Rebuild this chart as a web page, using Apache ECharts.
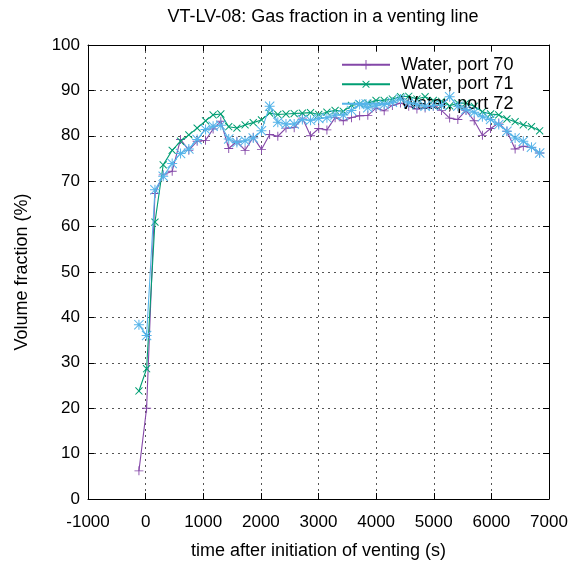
<!DOCTYPE html>
<html>
<head>
<meta charset="utf-8">
<script src="https://cdn.jsdelivr.net/npm/echarts@6/dist/echarts.min.js"></script>
<style>html,body{margin:0;padding:0;background:#fff}#c{width:573px;height:563px}</style>
</head>
<body>
<div id="c"></div>
<script>
const titleText = "VT-LV-08: Gas fraction in a venting line";
const xName = "time after initiation of venting (s)";
const yName = "Volume fraction (%)";
const seriesNames = ["Water, port 70", "Water, port 71", "Water, port 72"];
const seriesColors = ["#8447a8", "#009e73", "#56b4e9"];

const time = [-116, 17, 162, 305, 461, 606, 750, 894, 1040, 1171,
  1305, 1442, 1584, 1726, 1868, 2010, 2152, 2294, 2436, 2578,
  2720, 2862, 3004, 3146, 3288, 3430, 3572, 3714, 3856, 3998,
  4140, 4282, 4424, 4566, 4708, 4850, 4992, 5134, 5276, 5418,
  5560, 5702, 5844, 5986, 6128, 6270, 6412, 6554, 6696, 6838];

const port70 = [6.2, 20.0, 67.3, 71.4, 72.2, 79.2, 76.8, 78.8, 79.0, 81.5,
  83.2, 77.2, 78.8, 76.8, 79.7, 77.0, 80.3, 79.9, 81.7, 81.8,
  83.9, 80.0, 81.6, 81.3, 84.0, 83.3, 84.0, 84.4, 84.5, 86.1,
  85.5, 86.7, 87.2, 86.5, 85.9, 86.1, 86.5, 85.6, 83.9, 83.6,
  85.6, 83.3, 80.1, 81.6, 82.8, 81.0, 77.1, 77.7, 77.4, 76.2];

const port71 = [23.8, 28.7, 61.0, 73.6, 76.8, 78.8, 80.2, 81.7, 83.3, 84.6,
  84.8, 82.0, 81.7, 82.4, 82.9, 83.5, 85.0, 84.7, 84.8, 84.9,
  85.0, 85.1, 84.7, 85.2, 85.6, 85.4, 86.7, 87.0, 87.2, 87.8,
  87.8, 88.1, 88.6, 88.7, 88.1, 88.6, 87.8, 87.6, 86.6, 87.2,
  87.2, 86.5, 85.3, 84.8, 84.6, 83.7, 83.1, 82.4, 82.0, 81.1];

const port72 = [38.4, 36.0, 68.1, 71.1, 73.9, 76.1, 77.1, 79.2, 81.4, 82.1,
  82.3, 79.3, 78.5, 78.9, 79.5, 81.1, 86.5, 83.0, 82.6, 82.6,
  83.6, 83.4, 83.8, 84.0, 84.6, 84.6, 85.6, 86.9, 86.2, 86.6,
  86.9, 87.4, 88.1, 87.3, 86.9, 86.5, 86.7, 86.7, 88.6, 86.5,
  85.8, 85.2, 84.2, 83.6, 82.5, 81.0, 79.5, 78.8, 77.5, 76.2];

const xMin = -1000, xMax = 7000, xStep = 1000;
const yMin = 0, yMax = 100, yStep = 10;

const FONT = "'Liberation Sans', Arial, sans-serif";
const plusPath = 'path://M4.5,0 L5.5,0 L5.5,4.5 L10,4.5 L10,5.5 L5.5,5.5 L5.5,10 L4.5,10 L4.5,5.5 L0,5.5 L0,4.5 L4.5,4.5 Z';
const starPath = 'path://M4.5,0 L5.5,0 L5.5,4.5 L10,4.5 L10,5.5 L5.5,5.5 L5.5,10 L4.5,10 L4.5,5.5 L0,5.5 L0,4.5 L4.5,4.5 Z ' +
  'M0,0.7 L0.7,0 L10,9.3 L9.3,10 Z M9.3,0 L10,0.7 L0.7,10 L0,9.3 Z';
const symbols = [plusPath, plusPath, starPath];
const rotations = [0, 45, 0];
const sizes = [9, 10, 10];
const dataSets = [port70, port71, port72];

const chart = echarts.init(document.getElementById('c'), null, {renderer: 'canvas'});

const gridLine = {show: true, lineStyle: {color: '#555', width: 1, type: [2, 4]}};
const axLine = {show: true, onZero: false, lineStyle: {color: '#000', width: 1}};
const tick = {show: true, inside: true, length: 6, lineStyle: {color: '#000', width: 1}};

const option = {
  animation: false,
  backgroundColor: '#fff',
  textStyle: {fontFamily: FONT},
  title: {
    text: titleText, left: 318, top: 3, textAlign: 'center',
    textStyle: {fontFamily: FONT, fontSize: 18, fontWeight: 'normal', color: '#000'}
  },
  grid: {left: 88, right: 24, top: 45, bottom: 64, containLabel: false, outerBoundsMode: 'none'},
  graphic: [{
    type: 'rect', left: 331, top: 52, z: 1, silent: true,
    shape: {width: 211, height: 60},
    style: {fill: '#fff', stroke: null}
  }],
  legend: {
    orient: 'vertical', left: 336, top: 50, padding: 5,
    itemWidth: 48, itemHeight: 12, itemGap: 0,
    textStyle: {fontFamily: FONT, fontSize: 18, lineHeight: 19.5, color: '#000', padding: [0, 0, 0, 6]},
    data: seriesNames
  },
  xAxis: [{
    type: 'value', min: xMin, max: xMax, interval: xStep, position: 'bottom',
    axisLine: axLine, axisTick: tick, splitLine: gridLine,
    axisLabel: {fontFamily: FONT, fontSize: 17, color: '#000', margin: 15, formatter: v => String(v)},
    name: xName, nameLocation: 'middle', nameGap: 43,
    nameTextStyle: {fontFamily: FONT, fontSize: 18, color: '#000'}
  }, {
    type: 'value', min: xMin, max: xMax, interval: xStep, position: 'top',
    axisLine: axLine, axisTick: tick, splitLine: {show: false}, axisLabel: {show: false}
  }],
  yAxis: [{
    type: 'value', min: yMin, max: yMax, interval: yStep, position: 'left',
    axisLine: axLine, axisTick: tick, splitLine: gridLine,
    axisLabel: {fontFamily: FONT, fontSize: 17, color: '#000', margin: 8, formatter: v => String(v)},
    name: yName, nameLocation: 'middle', nameGap: 57, nameRotate: 90,
    nameTextStyle: {fontFamily: FONT, fontSize: 18, color: '#000'}
  }, {
    type: 'value', min: yMin, max: yMax, interval: yStep, position: 'right',
    axisLine: axLine, axisTick: tick, splitLine: {show: false}, axisLabel: {show: false}
  }],
  series: seriesNames.map((nm, k) => ({
    name: nm, type: 'line',
    xAxisIndex: 0, yAxisIndex: 0,
    data: time.map((t, i) => [t, dataSets[k][i]]),
    symbol: symbols[k], symbolSize: sizes[k], symbolRotate: rotations[k],
    showAllSymbol: true,
    color: seriesColors[k],
    itemStyle: {color: seriesColors[k]},
    lineStyle: {color: seriesColors[k], width: 1.1},
    z: 2 + k
  }))
};
chart.setOption(option);
</script>
</body>
</html>
